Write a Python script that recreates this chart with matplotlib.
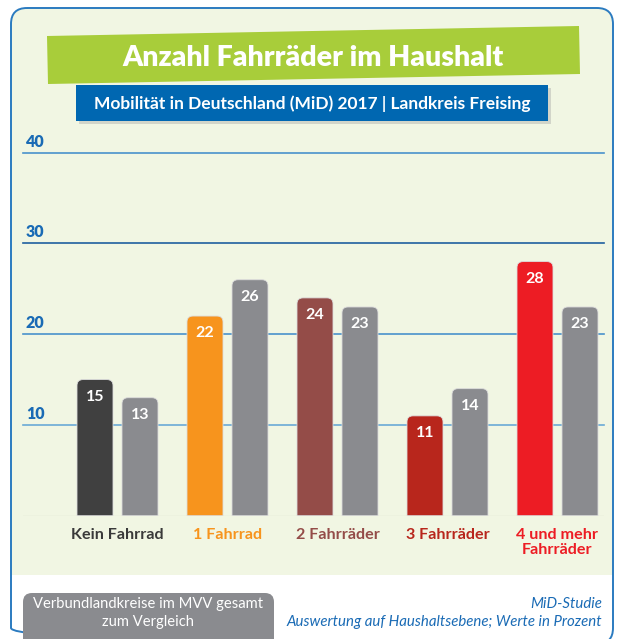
import matplotlib
matplotlib.use('Agg')
import matplotlib.pyplot as plt
from matplotlib.patches import FancyBboxPatch, Polygon, Rectangle, PathPatch
from matplotlib.path import Path
from matplotlib import font_manager

# data
categories = ['Kein Fahrrad', '1 Fahrrad', '2 Fahrräder', '3 Fahrräder', '4 und mehr\nFahrräder']
freising = [15, 22, 24, 11, 28]
mvv_gesamt = [13, 26, 23, 14, 23]
cat_colors = ['#404040', '#f7941d', '#944c48', '#b8261c', '#ed1c24']
label_colors = ['#3a3a3a', '#f7941d', '#944c48', '#b8261c', '#ed1c24']
grey = '#8a8b8f'
yticks = [10, 20, 30, 40]

title = 'Anzahl Fahrräder im Haushalt'
subtitle = 'Mobilität in Deutschland (MiD) 2017 | Landkreis Freising'

names = {f.name for f in font_manager.fontManager.ttflist}
narrow = 'Liberation Sans Narrow' if 'Liberation Sans Narrow' in names else 'Lato'
plt.rcParams['font.family'] = ['Lato', 'DejaVu Sans']

W, H = 617, 639
fig = plt.figure(figsize=(W / 100, H / 100), dpi=100)

# background layer in pixel coordinates
bg = fig.add_axes([0, 0, 1, 1])
bg.set_xlim(0, W)
bg.set_ylim(H, 0)
bg.axis('off')

bg.add_patch(FancyBboxPatch((11, 8), 602, 636, boxstyle='round,pad=0,rounding_size=16',
                            facecolor='#f1f6e3', edgecolor='none'))
bg.add_patch(Rectangle((11, 575), 602, 70, facecolor='white', edgecolor='none'))
bg.add_patch(FancyBboxPatch((11, 8), 602, 636, boxstyle='round,pad=0,rounding_size=16',
                            facecolor='none', edgecolor='#2b7bc0', lw=1.4))

# title banners
bg.add_patch(Polygon([(47, 36), (579, 26), (580, 74), (48, 84)], closed=True,
                     facecolor='#a8cd3a', edgecolor='none'))
bg.text(313, 58, title, color='white', fontsize=20.5, fontweight='heavy', family=narrow,
        ha='center', va='center')
bg.add_patch(Rectangle((79, 88), 472, 36, facecolor='#9a9a9a', alpha=0.35, edgecolor='none'))
bg.add_patch(Rectangle((76, 85), 472, 36, facecolor='#0067b1', edgecolor='none'))
bg.text(312, 104, subtitle, color='white', fontsize=12.5, fontweight='bold', family=narrow,
        ha='center', va='center')

# footer
bg.add_patch(FancyBboxPatch((23, 593), 251, 60, boxstyle='round,pad=0,rounding_size=9',
                            facecolor=grey, edgecolor='none'))
bg.text(148.5, 604, 'Verbundlandkreise im MVV gesamt', color='white', fontsize=10.6,
        ha='center', va='center')
bg.text(148.5, 622, 'zum Vergleich', color='white', fontsize=10.6, ha='center', va='center')
bg.text(602, 604, 'MiD-Studie', color='#1a6bb5', fontsize=10.8, style='italic',
        ha='right', va='center')
bg.text(602, 622, 'Auswertung auf Haushaltsebene; Werte in Prozent', color='#1a6bb5',
        fontsize=10.8, style='italic', ha='right', va='center')

# chart axes
x_left, x_right, y_base, y_top = 23, 604, 515.7, 152.7
ax = fig.add_axes([x_left / W, (H - y_base) / H, (x_right - x_left) / W, (y_base - y_top) / H])
ax.set_xlim((x_left - 117.5) / 110, (x_right - 117.5) / 110)
ax.set_ylim(0, 40)
ax.axis('off')
ax.patch.set_alpha(0)

for t in yticks:
    col = '#1f5f9f' if t == 30 else ('#6aaad6' if t == 10 else '#4a92cc')
    ax.axhline(t, color=col, lw=1.2, zorder=1, clip_on=False)
    ax.text(0.005, t + 0.35, str(t), transform=ax.get_yaxis_transform(), color='#1a6bb5',
            fontsize=11.5, fontweight='heavy', ha='left', va='bottom')
ax.axhline(0, color='#dde2d3', lw=1, zorder=1)

bw = 36 / 110
off = 22.5 / 110
rx, ry = 6 / 110, 6 / 9.075


def rounded_bar(xc, h, color):
    x0, x1 = xc - bw / 2, xc + bw / 2
    verts = [(x0, 0), (x1, 0), (x1, h - ry), (x1, h), (x1 - rx, h),
             (x0 + rx, h), (x0, h), (x0, h - ry), (x0, 0)]
    codes = [Path.MOVETO, Path.LINETO, Path.LINETO, Path.CURVE3, Path.CURVE3,
             Path.LINETO, Path.CURVE3, Path.CURVE3, Path.CLOSEPOLY]
    ax.add_patch(PathPatch(Path(verts, codes), facecolor=color, edgecolor='#dcdcdc',
                           lw=0.6, zorder=2))
    ax.text(xc, h - 1.9, str(h), color='white', fontsize=11.5, fontweight='bold',
            ha='center', va='center', zorder=3)


for i, cat in enumerate(categories):
    rounded_bar(i - off, freising[i], cat_colors[i])
    rounded_bar(i + off, mvv_gesamt[i], grey)
    ax.text(i, -1.35, cat, color=label_colors[i], fontsize=11.6, fontweight='bold',
            ha='center', va='top', linespacing=1.1, clip_on=False)

fig.savefig('out.png', dpi=100)
